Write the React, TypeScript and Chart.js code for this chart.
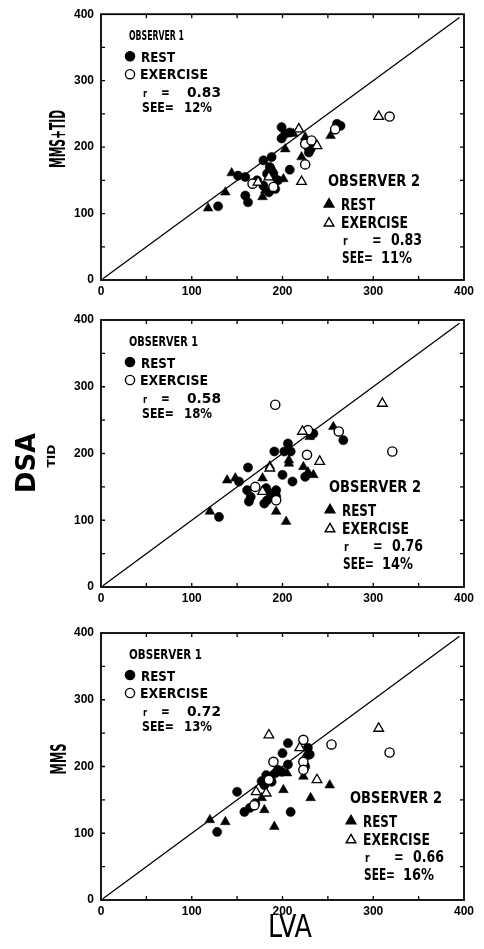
import React, { useEffect, useRef } from "react";
import { Chart, registerables } from "chart.js";

Chart.register(...registerables);

type Pt = [number, number];

// ---------- Panel 1 : MMS+TID vs LVA ----------
const p1Obs1Rest: Pt[] = [
  [129, 111], [151, 157], [159, 155], [159, 127], [162, 117], [179, 180], [188, 185], [186, 170],
  [190, 157], [179, 142], [185, 132], [192, 137], [208, 166], [199, 230], [203, 220], [208, 222],
  [199, 213], [231, 197], [229, 192], [260, 235], [264, 232], [172, 150], [195, 150], [183, 160],
];
const p1Obs1Ex: Pt[] = [[167, 145], [225, 205], [225, 174], [258, 227], [318, 246], [190, 140], [232, 210]];
const p1Obs2Rest: Pt[] = [
  [118, 108], [137, 132], [144, 161], [181, 135], [201, 152], [203, 197], [225, 215], [231, 207],
  [221, 185], [253, 217], [178, 125], [212, 220], [190, 165], [229, 200],
];
const p1Obs2Ex: Pt[] = [[173, 147], [218, 227], [238, 202], [221, 148], [306, 246], [185, 155]];

// ---------- Panel 2 : TID vs LVA ----------
const p2Obs1Rest: Pt[] = [
  [130, 105], [152, 158], [162, 179], [191, 203], [206, 215], [209, 203], [202, 203], [200, 168],
  [211, 158], [234, 230], [225, 165], [267, 220], [161, 145], [163, 128], [182, 148], [187, 140],
  [193, 145], [180, 125], [183, 130], [193, 136], [165, 135], [232, 228],
];
const p2Obs1Ex: Pt[] = [[192, 273], [228, 235], [227, 198], [262, 233], [170, 150], [193, 130], [321, 203]];
const p2Obs2Rest: Pt[] = [
  [120, 113], [139, 160], [148, 163], [186, 181], [207, 185], [230, 225], [223, 180], [234, 168],
  [256, 240], [178, 163], [193, 113], [204, 98], [228, 172], [207, 190],
];
const p2Obs2Ex: Pt[] = [[186, 178], [222, 233], [241, 188], [178, 143], [310, 275]];

// ---------- Panel 3 : MMS vs LVA ----------
const p3Obs1Rest: Pt[] = [
  [128, 102], [150, 162], [158, 132], [164, 138], [209, 132], [182, 187], [188, 177], [180, 172],
  [206, 203], [199, 192], [206, 235], [200, 220], [228, 228], [230, 218], [185, 182], [192, 190],
  [170, 145], [177, 178], [195, 195], [225, 200],
];
const p3Obs1Ex: Pt[] = [[190, 207], [223, 240], [254, 233], [223, 207], [223, 195], [169, 142], [318, 221], [185, 180]];
const p3Obs2Rest: Pt[] = [
  [120, 120], [137, 117], [191, 110], [180, 135], [177, 153], [201, 165], [231, 153], [252, 172],
  [223, 185], [205, 190], [187, 185], [225, 215],
];
const p3Obs2Ex: Pt[] = [[185, 247], [219, 228], [238, 180], [171, 162], [306, 257], [182, 160]];

// ---------- Labels / stats ----------
const yTitles = ["MMS+TID", "TID", "MMS"];
const groupTitle = "DSA";
const xTitle = "LVA";
const obs1Label = "OBSERVER 1";
const obs2Label = "OBSERVER 2";
const restLabel = "REST";
const exLabel = "EXERCISE";
const obs1R = ["0.83", "0.58", "0.72"];
const obs1See = ["12%", "18%", "13%"];
const obs2R = ["0.83", "0.76", "0.66"];
const obs2See = ["11%", "14%", "16%"];
const identityLine: Pt[] = [[2, 2], [395, 395]];
const axisMin = 0;
const axisMax = 400;
const axisStep = 100;
const minorTicks = [50, 100, 150, 200, 250, 300, 350];

const panelData = [
  [p1Obs1Rest, p1Obs1Ex, p1Obs2Rest, p1Obs2Ex],
  [p2Obs1Rest, p2Obs1Ex, p2Obs2Rest, p2Obs2Ex],
  [p3Obs1Rest, p3Obs1Ex, p3Obs2Rest, p3Obs2Ex],
];

// ---------- Layout (pixels) ----------
const W = 484;
const canvasTop = [0, 305, 615];
const canvasH = [305, 310, 334];
const areaTop = [13, 15, 18];
const areaBottom = [280, 282, 285];
const areaLeft = 101;
const areaRight = 464;
const obs1Width = [55, 69, 73];
const obs2Pos = [[227, 172], [228, 172], [249, 170]];

const COND = "'DejaVu Sans Condensed', 'DejaVu Sans', 'Liberation Sans', sans-serif";
const TICKFONT = "'Liberation Sans', Arial, sans-serif";

function fitText(ctx: CanvasRenderingContext2D, text: string, x: number, y: number, cap: number, width: number, weight = "bold") {
  ctx.save();
  ctx.font = `${weight} ${cap / 0.73}px ${COND}`;
  const w = ctx.measureText(text).width || 1;
  ctx.translate(x, y);
  ctx.scale(width / w, 1);
  ctx.textAlign = "left";
  ctx.textBaseline = "alphabetic";
  ctx.fillStyle = "#000";
  ctx.fillText(text, 0, 0);
  ctx.restore();
}

function plainText(ctx: CanvasRenderingContext2D, text: string, x: number, y: number, cap: number) {
  ctx.save();
  ctx.font = `bold ${cap / 0.73}px ${COND}`;
  ctx.translate(x, y);
  ctx.scale(0.85, 1);
  ctx.textAlign = "left";
  ctx.textBaseline = "alphabetic";
  ctx.fillStyle = "#000";
  ctx.fillText(text, 0, 0);
  ctx.restore();
}

function rotText(ctx: CanvasRenderingContext2D, text: string, cx: number, cy: number, cap: number, len: number) {
  ctx.save();
  ctx.font = `bold ${cap / 0.73}px ${COND}`;
  const w = ctx.measureText(text).width || 1;
  ctx.translate(cx, cy);
  ctx.rotate(-Math.PI / 2);
  ctx.scale(len / w, 1);
  ctx.textAlign = "center";
  ctx.textBaseline = "alphabetic";
  ctx.fillStyle = "#000";
  ctx.fillText(text, 0, cap / 2);
  ctx.restore();
}

function centerText(ctx: CanvasRenderingContext2D, text: string, cx: number, base: number, cap: number, width: number) {
  ctx.save();
  ctx.font = `normal ${cap / 0.73}px ${COND}`;
  const w = ctx.measureText(text).width || 1;
  ctx.translate(cx, base);
  ctx.scale(width / w, 1);
  ctx.textAlign = "center";
  ctx.textBaseline = "alphabetic";
  ctx.fillStyle = "#000";
  ctx.fillText(text, 0, 0);
  ctx.restore();
}

function marker(ctx: CanvasRenderingContext2D, kind: "circle" | "triangle", filled: boolean, x: number, y: number) {
  ctx.save();
  ctx.lineWidth = 1.4;
  ctx.strokeStyle = "#000";
  ctx.fillStyle = filled ? "#000" : "#fff";
  ctx.beginPath();
  if (kind === "circle") {
    ctx.arc(x, y, 4.6, 0, Math.PI * 2);
  } else {
    const r = 5.6;
    for (let k = 0; k < 3; k++) {
      const a = (k * 2 * Math.PI) / 3;
      const px = x + Math.sin(a) * r;
      const py = y - Math.cos(a) * r;
      if (k === 0) ctx.moveTo(px, py);
      else ctx.lineTo(px, py);
    }
    ctx.closePath();
  }
  ctx.fill();
  ctx.stroke();
  ctx.restore();
}

const toXY = (a: Pt[]) => a.map(([x, y]) => ({ x, y }));

function makePlugin(pi: number) {
  return {
    id: "decor" + pi,
    afterDatasetsDraw(chart: any) {
      const ctx: CanvasRenderingContext2D = chart.ctx;
      const { left, top, right, bottom } = chart.chartArea;
      const xs = chart.scales.x;
      const ys = chart.scales.y;
      // frame
      ctx.save();
      ctx.strokeStyle = "#000";
      ctx.lineWidth = 1.8;
      ctx.strokeRect(left, top, right - left, bottom - top);
      ctx.lineWidth = 1.3;
      ctx.beginPath();
      for (const v of minorTicks) {
        const px = xs.getPixelForValue(v);
        ctx.moveTo(px, bottom);
        ctx.lineTo(px, bottom - 4);
        ctx.moveTo(px, top);
        ctx.lineTo(px, top + 4);
        const py = ys.getPixelForValue(v);
        ctx.moveTo(left, py);
        ctx.lineTo(left + 4, py);
        ctx.moveTo(right, py);
        ctx.lineTo(right - 4, py);
      }
      ctx.stroke();
      ctx.restore();

      // Observer 1 block
      const ox = left + 28;
      const oy = top;
      fitText(ctx, obs1Label, ox, oy + 26, 10, obs1Width[pi]);
      marker(ctx, "circle", true, ox + 1, oy + 42);
      fitText(ctx, restLabel, ox + 12, oy + 48, 10, 34);
      marker(ctx, "circle", false, ox + 1, oy + 60);
      fitText(ctx, exLabel, ox + 11, oy + 65, 10, 68);
      plainText(ctx, "r", ox + 14, oy + 83, 8);
      plainText(ctx, "=", ox + 32, oy + 83, 10);
      fitText(ctx, obs1R[pi], ox + 58, oy + 83, 10.5, 34);
      fitText(ctx, "SEE=", ox + 13, oy + 98, 10, 32);
      fitText(ctx, obs1See[pi], ox + 55, oy + 98, 10, 28);

      // Observer 2 block
      const x0 = left + obs2Pos[pi][0];
      const y0 = top + obs2Pos[pi][1];
      fitText(ctx, obs2Label, x0, y0, 11.5, 92);
      marker(ctx, "triangle", true, x0 + 1, y0 + 18);
      fitText(ctx, restLabel, x0 + 13, y0 + 24, 11, 34);
      marker(ctx, "triangle", false, x0 + 1, y0 + 37);
      fitText(ctx, exLabel, x0 + 13, y0 + 42, 11, 67);
      plainText(ctx, "r", x0 + 15, y0 + 59, 9);
      plainText(ctx, "=", x0 + 44, y0 + 59, 11);
      fitText(ctx, obs2R[pi], x0 + 63, y0 + 59, 11.5, 31);
      fitText(ctx, "SEE=", x0 + 14, y0 + 77, 11, 31);
      fitText(ctx, obs2See[pi], x0 + 53, y0 + 77, 11, 31);

      // axis titles (page coordinates converted to canvas)
      const ct = canvasTop[pi];
      if (pi === 0) rotText(ctx, yTitles[0], 57.5, 139 - ct, 15, 58);
      if (pi === 1) {
        rotText(ctx, groupTitle, 25, 463 - ct, 20, 60);
        rotText(ctx, yTitles[1], 51, 456 - ct, 8, 23);
      }
      if (pi === 2) {
        rotText(ctx, yTitles[2], 58, 759 - ct, 15, 31);
        centerText(ctx, xTitle, 290, 937 - ct, 23, 44);
      }
    },
  };
}

function Panel({ pi }: { pi: number }) {
  const ref = useRef<HTMLCanvasElement>(null);
  useEffect(() => {
    const [o1r, o1e, o2r, o2e] = panelData[pi];
    const tickFont = { family: TICKFONT, size: 12, weight: "bold" as const };
    const chart = new Chart(ref.current as HTMLCanvasElement, {
      type: "scatter",
      data: {
        datasets: [
          {
            type: "line" as any,
            label: "identity",
            data: toXY(identityLine),
            borderColor: "#000",
            borderWidth: 1.3,
            pointRadius: 0,
            showLine: true,
            fill: false,
            order: 10,
          } as any,
          {
            label: "Observer 1 rest",
            data: toXY(o1r),
            pointStyle: "circle",
            pointRadius: 4.6,
            backgroundColor: "#000",
            borderColor: "#000",
            borderWidth: 0.5,
            order: 4,
          },
          {
            label: "Observer 2 rest",
            data: toXY(o2r),
            pointStyle: "triangle",
            pointRadius: 5.6,
            backgroundColor: "#000",
            borderColor: "#000",
            borderWidth: 0.5,
            order: 3,
          },
          {
            label: "Observer 1 exercise",
            data: toXY(o1e),
            pointStyle: "circle",
            pointRadius: 4.6,
            backgroundColor: "#fff",
            borderColor: "#000",
            borderWidth: 1.4,
            order: 2,
          },
          {
            label: "Observer 2 exercise",
            data: toXY(o2e),
            pointStyle: "triangle",
            pointRadius: 5.6,
            backgroundColor: "#fff",
            borderColor: "#000",
            borderWidth: 1.3,
            order: 1,
          },
        ],
      },
      options: {
        responsive: false,
        animation: false,
        devicePixelRatio: 1,
        events: [],
        layout: { padding: { top: areaTop[pi], right: W - areaRight, left: 0, bottom: 0 } },
        plugins: { legend: { display: false }, tooltip: { enabled: false }, title: { display: false } },
        scales: {
          x: {
            type: "linear",
            min: axisMin,
            max: axisMax,
            ticks: { stepSize: axisStep, color: "#000", font: tickFont, padding: 4, maxRotation: 0 },
            grid: { display: false, drawTicks: false },
            border: { display: false },
            afterFit: (s: any) => {
              s.height = canvasH[pi] - areaBottom[pi];
            },
          },
          y: {
            type: "linear",
            min: axisMin,
            max: axisMax,
            ticks: { stepSize: axisStep, color: "#000", font: tickFont, padding: 7 },
            grid: { display: false, drawTicks: false },
            border: { display: false },
            afterFit: (s: any) => {
              s.width = areaLeft;
            },
          },
        },
      },
      plugins: [makePlugin(pi)],
    } as any);
    return () => chart.destroy();
  }, [pi]);
  return (
    <canvas
      ref={ref}
      width={W}
      height={canvasH[pi]}
      style={{ position: "absolute", left: 0, top: canvasTop[pi], width: W, height: canvasH[pi], display: "block" }}
    />
  );
}

export default function App() {
  return (
    <div style={{ position: "absolute", left: 0, top: 0, width: W, height: 949, background: "#fff" }}>
      <Panel pi={0} />
      <Panel pi={1} />
      <Panel pi={2} />
    </div>
  );
}
